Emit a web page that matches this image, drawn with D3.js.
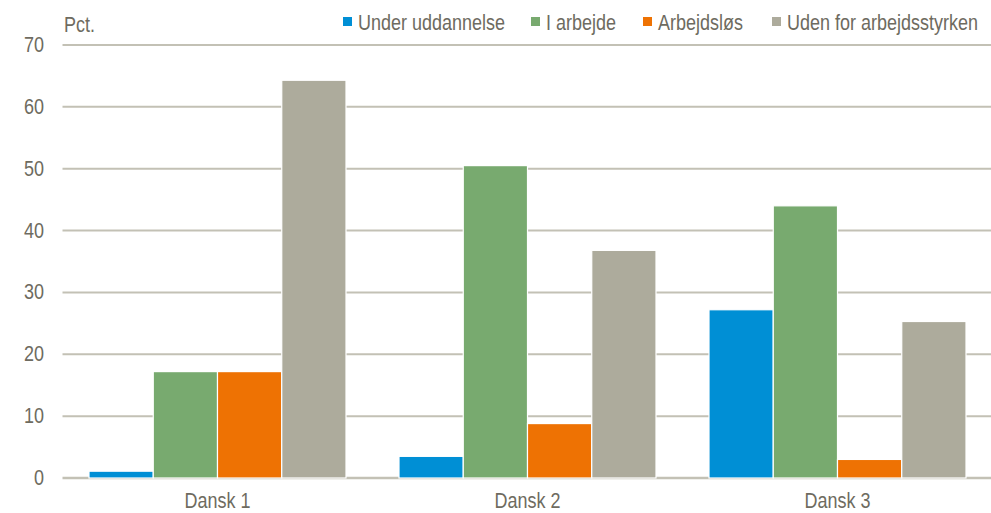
<!DOCTYPE html>
<html>
<head>
<meta charset="utf-8">
<script src="https://cdn.jsdelivr.net/npm/d3@7"></script>
<style>
  body { margin: 0; background: #fff; }
  text { font-family: "Liberation Sans", Arial, sans-serif; fill: #6e6b60; }
</style>
</head>
<body>
<svg width="991" height="513"></svg>
<script>
const categories = ['Dansk 1', 'Dansk 2', 'Dansk 3']
const seriesNames = ['Under uddannelse', 'I arbejde', 'Arbejdsløs', 'Uden for arbejdsstyrken']
const seriesColors = ['#008fd5', '#78aa6f', '#ee7203', '#adab9c']
const underUddannelse = [1.1, 3.5, 27.2]
const iArbejde = [17.2, 50.5, 44.0]
const arbejdslos = [17.2, 8.8, 3.0]
const udenFor = [64.3, 36.8, 25.3]
const yTicks = [0, 10, 20, 30, 40, 50, 60, 70]

const values = [underUddannelse, iArbejde, arbejdslos, udenFor]

const svg = d3.select('svg')
const width = +svg.attr('width')
const height = +svg.attr('height')
const margin = {left: 62.5, right: -1.5, top: 45, bottom: 35}
const stretch = 1.18   // the text in the picture is a bit taller than plain Arial

const x = d3.scaleBand()
    .domain(categories)
    .range([margin.left, width - margin.right])
const xInner = d3.scaleBand()
    .domain(seriesNames)
    .range([26.5, x.bandwidth() - 26.5])
const y = d3.scaleLinear()
    .domain([0, 70])
    .range([height - margin.bottom, margin.top])

const label = (sel, tx, ty) => sel
    .attr('transform', (d, i) => `translate(${tx(d, i)},${ty(d, i)}) scale(1,${stretch})`)

// gridlines
svg.append('g')
  .selectAll('line')
  .data(yTicks)
  .join('line')
    .attr('x1', margin.left)
    .attr('x2', width)
    .attr('y1', d => y(d))
    .attr('y2', d => y(d))
    .attr('stroke', '#c3c1b5')
    .attr('stroke-width', d => d === 0 ? 2.5 : 2)

// y labels
svg.append('g')
  .selectAll('text')
  .data(yTicks)
  .join('text')
    .call(label, () => 44, d => y(d) + 7)
    .attr('text-anchor', 'end')
    .attr('font-size', 18)
    .text(d => d)

svg.append('text')
    .attr('transform', `translate(64,32) scale(1,${stretch})`)
    .attr('font-size', 18)
    .text('Pct.')

// bars
const groups = svg.append('g')
  .selectAll('g')
  .data(categories)
  .join('g')
    .attr('transform', d => `translate(${x(d)},0)`)

groups.selectAll('rect')
  .data((c, ci) => seriesNames.map((s, si) => ({s, si, v: values[si][ci]})))
  .join('rect')
    .attr('x', d => xInner(d.s))
    .attr('width', xInner.bandwidth())
    .attr('y', d => y(d.v))
    .attr('height', d => y(0) - y(d.v))
    .attr('fill', d => seriesColors[d.si])
    .attr('stroke', '#fff')
    .attr('stroke-width', 1.2)

// category labels
svg.append('g')
  .selectAll('text')
  .data(categories)
  .join('text')
    .call(label, d => x(d) + x.bandwidth() / 2, () => 508)
    .attr('text-anchor', 'middle')
    .attr('font-size', 18)
    .text(d => d)

// legend
const legendX = [343, 531, 643, 772]
const legend = svg.append('g')
  .selectAll('g')
  .data(seriesNames)
  .join('g')
    .attr('transform', (d, i) => `translate(${legendX[i]}, 0)`)
legend.append('rect')
    .attr('x', 0)
    .attr('y', 17)
    .attr('width', 9)
    .attr('height', 9)
    .attr('fill', (d, i) => seriesColors[i])
legend.append('text')
    .attr('transform', `translate(15,30) scale(1,${stretch})`)
    .attr('font-size', 18)
    .text(d => d)
</script>
</body>
</html>
